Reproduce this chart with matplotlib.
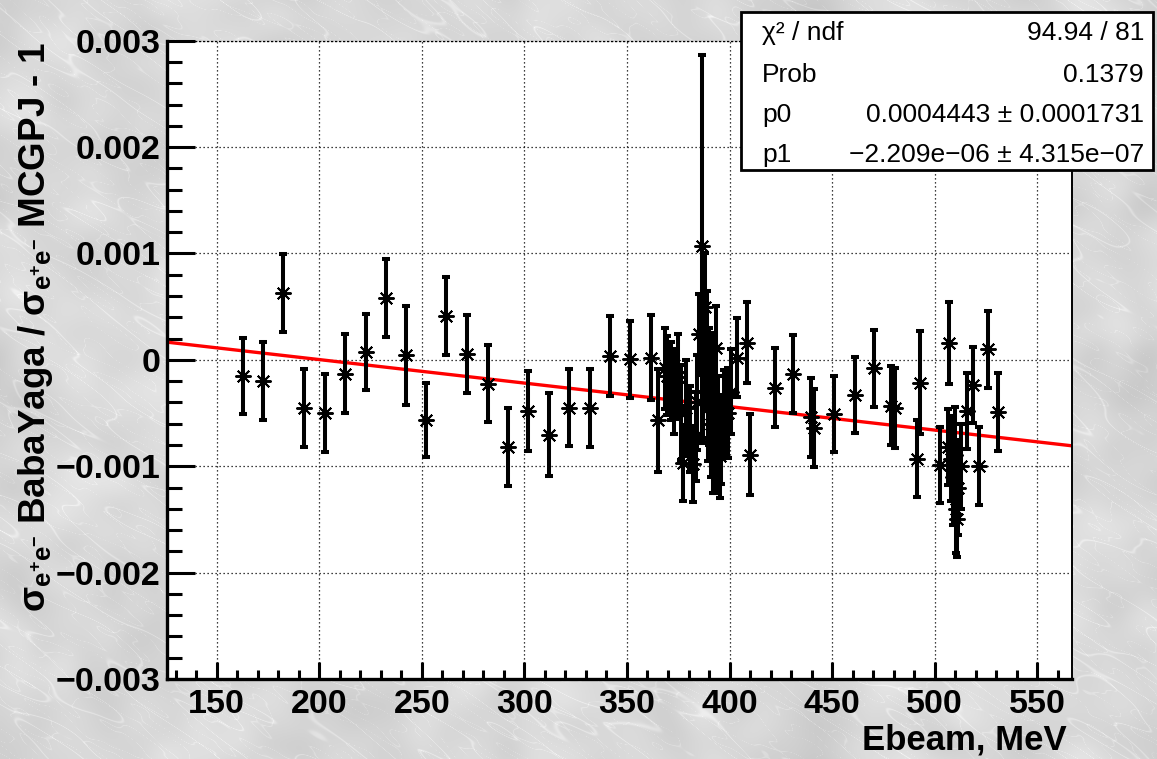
import numpy as np
import matplotlib
matplotlib.use("Agg")
import matplotlib.pyplot as plt
from matplotlib.patches import Rectangle
from matplotlib.ticker import FixedLocator, MultipleLocator, FixedFormatter

# ---- data: beam energy (MeV), relative cross-section difference and its error ----
energy = [
    162.7, 172.7, 182.5, 192.3, 202.6, 212.4, 222.6, 232.4, 242.3, 252.0,
    262.0, 272.2, 282.4, 292.2, 301.9, 311.9, 321.9, 332.0, 341.7, 351.5,
    361.9, 365.3, 368.3, 369.5, 371.5, 373.0, 375.0, 376.3, 377.5, 379.0,
    380.5, 382.3, 383.5, 384.3, 385.2, 386.4, 387.3, 388.0, 389.0, 389.6,
    390.2, 390.8, 391.3, 391.8, 392.3, 392.8, 393.4, 394.0, 394.6, 395.2,
    396.0, 397.5, 399.4, 400.5, 403.4, 408.6, 410.2, 422.3, 431.0, 439.5,
    441.1, 450.8, 461.3, 470.3, 478.9, 480.9, 491.4, 493.0, 502.8, 506.9,
    506.4, 508.0, 509.0, 509.8, 510.3, 510.8, 511.5, 512.6, 515.9, 518.5,
    521.5, 526.2, 531.1,
]
ratio = [
    -0.000152, -0.000199, 0.000630, -0.000449, -0.000496, -0.000130, 0.000073, 0.000583, 0.000042, -0.000565,
    0.000411, 0.000057, -0.000224, -0.000815, -0.000480, -0.000705, -0.000449, -0.000449, 0.000036, 0.000005,
    0.000020, -0.000570, -0.000080, -0.000150, -0.000200, -0.000300, -0.000160, -0.000500, -0.000970, -0.000450,
    -0.000650, -0.000980, -0.000720, -0.000400, 0.000240, 0.001068, -0.000100, 0.000500, 0.000100, -0.000450,
    -0.000250, -0.000600, -0.000350, -0.000750, -0.000500, -0.000800, 0.000110, -0.000850, -0.000600, -0.000900,
    -0.000750, -0.000500, -0.000500, -0.000300, 0.000020, 0.000160, -0.000890, -0.000260, -0.000130, -0.000540,
    -0.000640, -0.000510, -0.000330, -0.000080, -0.000430, -0.000450, -0.000930, -0.000215, -0.000990, 0.000160,
    -0.000820, -0.000930, -0.001100, -0.000890, -0.001400, -0.001500, -0.001200, -0.001000, -0.000480, -0.000235,
    -0.000995, 0.000100, -0.000490,
]
ratio_err = [
    0.000357, 0.000368, 0.000367, 0.000367, 0.000367, 0.000370, 0.000355, 0.000365, 0.000463, 0.000350,
    0.000370, 0.000365, 0.000363, 0.000367, 0.000375, 0.000390, 0.000360, 0.000367, 0.000372, 0.000364,
    0.000400, 0.000480, 0.000380, 0.000370, 0.000370, 0.000400, 0.000400, 0.000450, 0.000360, 0.000450,
    0.000400, 0.000360, 0.000420, 0.000450, 0.000380, 0.001800, 0.000680, 0.000500, 0.000550, 0.000500,
    0.000550, 0.000500, 0.000600, 0.000500, 0.000550, 0.000450, 0.000400, 0.000400, 0.000450, 0.000400,
    0.000420, 0.000400, 0.000420, 0.000400, 0.000370, 0.000380, 0.000380, 0.000370, 0.000368, 0.000370,
    0.000370, 0.000360, 0.000360, 0.000360, 0.000375, 0.000375, 0.000360, 0.000485, 0.000356, 0.000386,
    0.000360, 0.000400, 0.000450, 0.000450, 0.000420, 0.000350, 0.000450, 0.000400, 0.000360, 0.000355,
    0.000367, 0.000363, 0.000370,
]

# linear fit result  f(E) = p0 + p1*E
p0 = 0.0004443
p1 = -2.209e-06

stats_names = ["χ² / ndf", "Prob", "p0", "p1"]
stats_values = ["94.94 / 81", "0.1379", "0.0004443 ± 0.0001731", "−2.209e−06 ± 4.315e−07"]

x_ticks = [150, 200, 250, 300, 350, 400, 450, 500, 550]
y_ticks = [-0.003, -0.002, -0.001, 0.0, 0.001, 0.002, 0.003]
y_tick_labels = ["−0.003", "−0.002", "−0.001", "0", "0.001", "0.002", "0.003"]

x_title = "Ebeam, MeV"
y_title = r"σ$_{\mathbf{e^{+}e^{-}}}$ BabaYaga / σ$_{\mathbf{e^{+}e^{-}}}$ MCGPJ - 1"

# ---- style ----
plt.rcParams["font.family"] = ["Liberation Sans", "DejaVu Sans"]
plt.rcParams["mathtext.fontset"] = "custom"
plt.rcParams["mathtext.rm"] = "Liberation Sans:bold"
plt.rcParams["mathtext.it"] = "Liberation Sans:bold"
plt.rcParams["mathtext.bf"] = "Liberation Sans:bold"

W, H, DPI = 1157, 759, 100
fig = plt.figure(figsize=(W / DPI, H / DPI), dpi=DPI)


def marble(h, w, seed=5):
    """Light grey marble-like canvas texture."""
    rng = np.random.default_rng(seed)
    fy = np.fft.fftfreq(h)[:, None]
    fx = np.fft.fftfreq(w)[None, :]
    a = np.deg2rad(32)
    u = fx * np.cos(a) + fy * np.sin(a)
    v = -fx * np.sin(a) + fy * np.cos(a)

    def field(fu, fv):
        f = np.real(np.fft.ifft2(np.fft.fft2(rng.standard_normal((h, w))) *
                                 np.exp(-(u / fu) ** 2 - (v / fv) ** 2)))
        return f / f.std()

    f1 = field(0.008, 0.04)
    f2 = field(0.015, 0.015)
    f3 = field(0.02, 0.08)
    veins = np.exp(-(f1 / 0.07) ** 2)
    fine = np.exp(-(f3 / 0.06) ** 2)
    g = 0.845 + 0.018 * f2 + 0.055 * veins + 0.04 * fine
    g = np.clip(g, 0, 1)
    return np.dstack([g, g, g])


fig.figimage(marble(H, W), xo=0, yo=0, origin="upper", zorder=0)

ax_l, ax_r, ax_t, ax_b = 167.3, 1072.3, 40.7, 679.0
ax = fig.add_axes([ax_l / W, 1 - ax_b / H, (ax_r - ax_l) / W, (ax_b - ax_t) / H])
ax.set_facecolor("white")
ax.set_zorder(1)

ax.set_xlim(125.9, 567.1)
ax.set_ylim(-0.003, 0.003)

# fit line across the full range
xf = np.linspace(125.9, 567.1, 200)
ax.plot(xf, p0 + p1 * xf, color="#ff0000", lw=2.4, zorder=2, solid_capstyle="butt")

# data points with error bars
ax.errorbar(energy, ratio, yerr=ratio_err, fmt="none", ecolor="black",
            elinewidth=2.9, capsize=3.2, capthick=2.9, zorder=3)
ax.plot(energy, ratio, linestyle="none", marker=(8, 2, 0), markersize=11.5,
        markeredgewidth=1.4, color="black", zorder=4)

# axes, ticks, grid
ax.xaxis.set_major_locator(FixedLocator(x_ticks))
ax.xaxis.set_minor_locator(MultipleLocator(10))
ax.yaxis.set_major_locator(FixedLocator(y_ticks))
ax.yaxis.set_major_formatter(FixedFormatter(y_tick_labels))
ax.yaxis.set_minor_locator(MultipleLocator(0.0002))

ax.tick_params(axis="both", which="both", direction="in", width=2.2, color="black",
               top=False, right=False)
ax.tick_params(axis="x", which="major", length=12.5, pad=7, labelsize=24.5)
ax.tick_params(axis="x", which="minor", length=6.5)
ax.tick_params(axis="y", which="major", length=20.5, pad=5, labelsize=24.5)
ax.tick_params(axis="y", which="minor", length=11)
for lab in ax.get_xticklabels() + ax.get_yticklabels():
    lab.set_fontweight("bold")

ax.grid(True, which="major", color="black", linestyle=(0, (1, 2.2)), linewidth=0.9)
ax.set_axisbelow(True)

ax.spines["left"].set_linewidth(2.4)
ax.spines["bottom"].set_linewidth(2.4)
ax.spines["right"].set_linewidth(1.4)
ax.spines["top"].set_linewidth(0.9)
ax.spines["top"].set_linestyle((0, (1, 2.2)))

# axis titles
fig.text(1067 / W, 1 - 740 / H, x_title, ha="right", va="center",
         fontsize=25, fontweight="bold")
fig.text(36 / W, 1 - 42 / H, y_title, ha="center", va="top", rotation=90,
         fontsize=26.5, fontweight="bold")

# statistics box
bx0, by0, bx1, by1 = 741, 12, 1153, 170
fig.add_artist(Rectangle((bx0 / W, 1 - by1 / H), (bx1 - bx0) / W, (by1 - by0) / H,
                         transform=fig.transFigure, facecolor="white",
                         edgecolor="black", linewidth=2.0, zorder=5))
row_y = [33, 75, 115, 155]
for name, val, yy in zip(stats_names, stats_values, row_y):
    fig.text(762 / W, 1 - yy / H, name, ha="left", va="center", fontsize=19, zorder=6)
    fig.text(1144 / W, 1 - yy / H, val, ha="right", va="center", fontsize=19, zorder=6)

fig.savefig("out.png", dpi=DPI)
